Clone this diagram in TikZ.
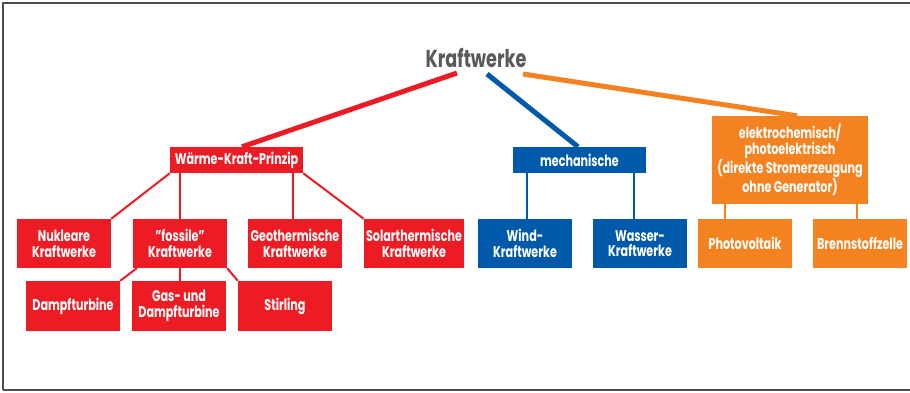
\documentclass[tikz,border=0pt]{standalone}
\usepackage{fontspec}
\setmainfont{Poppins}[FakeStretch=0.72]
\definecolor{kred}{HTML}{ED1C24}
\definecolor{kblue}{HTML}{0059A9}
\definecolor{korange}{HTML}{F58220}
\definecolor{kgray}{HTML}{58595B}
\definecolor{kframe}{HTML}{4D4D4D}
\tikzset{
  box/.style={fill=#1, text=white, inner sep=0pt, align=center,
    font=\bfseries\fontsize{15.5}{15.7}\selectfont},
  small/.style={minimum width=94pt, minimum height=49pt},
  thick line/.style={draw=#1, line width=5pt},
  thin line/.style={draw=#1, line width=2pt},
}
\begin{document}
\begin{tikzpicture}[x=1pt, y=-1pt]
\useasboundingbox (0,0) rectangle (910,392);
\draw[kframe, line width=1.8pt] (3,390) -- (3,3) -- (915,3);
\draw[kframe, line width=1.8pt] (3,390) -- (915,390);

\node[text=kgray, font=\bfseries\fontsize{24.5}{25}\selectfont] (title) at (476,58) {Kraftwerke};

% level 1
\node[box=kred, minimum width=133pt, minimum height=26pt] (W) at (236.5,160) {Wärme-Kraft-Prinzip};
\node[box=kblue, minimum width=133pt, minimum height=26pt] (M) at (579.5,160) {mechanische};
\node[box=korange, minimum width=156pt, minimum height=88pt] (E) at (790,160) {elektrochemisch/\\photoelektrisch\\(direkte Stromerzeugung\\ohne Generator)};

% level 2
\node[box=kred, small] (nuk) at (64,243.5) {Nukleare\\Kraftwerke};
\node[box=kred, small] (foss) at (180,243.5) {\char"22 fossile\char"22\\Kraftwerke};
\node[box=kred, small] (geo) at (295,243.5) {Geothermische\\Kraftwerke};
\node[box=kred, small, minimum width=100pt] (sol) at (414,243.5) {Solarthermische\\Kraftwerke};
\node[box=kblue, small] (wind) at (525,243.5) {Wind-\\Kraftwerke};
\node[box=kblue, small] (wass) at (640,243.5) {Wasser-\\Kraftwerke};
\node[box=korange, small] (photo) at (745,243.5) {Photovoltaik};
\node[box=korange, small] (brenn) at (860,243.5) {Brennstoffzelle};

% level 3
\node[box=kred, small, minimum height=50pt] (damp) at (73,306) {Dampfturbine};
\node[box=kred, small, minimum height=50pt] (gas) at (179,306) {Gas- und\\Dampfturbine};
\node[box=kred, small, minimum height=50pt] (stir) at (285,306) {Stirling};

% thick connectors
\coordinate (tr) at (457,73);
\coordinate (tb) at (487,74);
\coordinate (to) at (523,74);
\draw[thick line=kred] (tr) -- ([xshift=5.5pt]W.north);
\draw[thick line=kblue] (tb) -- ([xshift=-1.5pt]M.north);
\draw[thick line=korange] (to) -- ([xshift=7pt]E.north);

% thin connectors red
\draw[thin line=kred] (W.south west) -- (nuk.north east);
\draw[thin line=kred] (W.south -| foss.north) -- (foss.north);
\draw[thin line=kred] ([xshift=-2pt]geo.north |- W.south) -- ([xshift=-2pt]geo.north);
\draw[thin line=kred] (W.south east) -- (sol.north west);
\draw[thin line=kred] ([xshift=4pt]foss.south west) -- (damp.north east);
\draw[thin line=kred] (foss.south) -- (foss.south |- gas.north);
\draw[thin line=kred] (foss.south east) -- (stir.north west);

% thin connectors blue
\draw[thin line=kblue] ([xshift=2pt]wind.north |- M.south) -- ([xshift=2pt]wind.north);
\draw[thin line=kblue] ([xshift=-6pt]wass.north |- M.south) -- ([xshift=-6pt]wass.north);

% thin connectors orange
\draw[thin line=korange] ([xshift=-20pt]photo.north |- E.south) -- ([xshift=-20pt]photo.north);
\draw[thin line=korange] ([xshift=-3pt]brenn.north |- E.south) -- ([xshift=-3pt]brenn.north);
\end{tikzpicture}
\end{document}
